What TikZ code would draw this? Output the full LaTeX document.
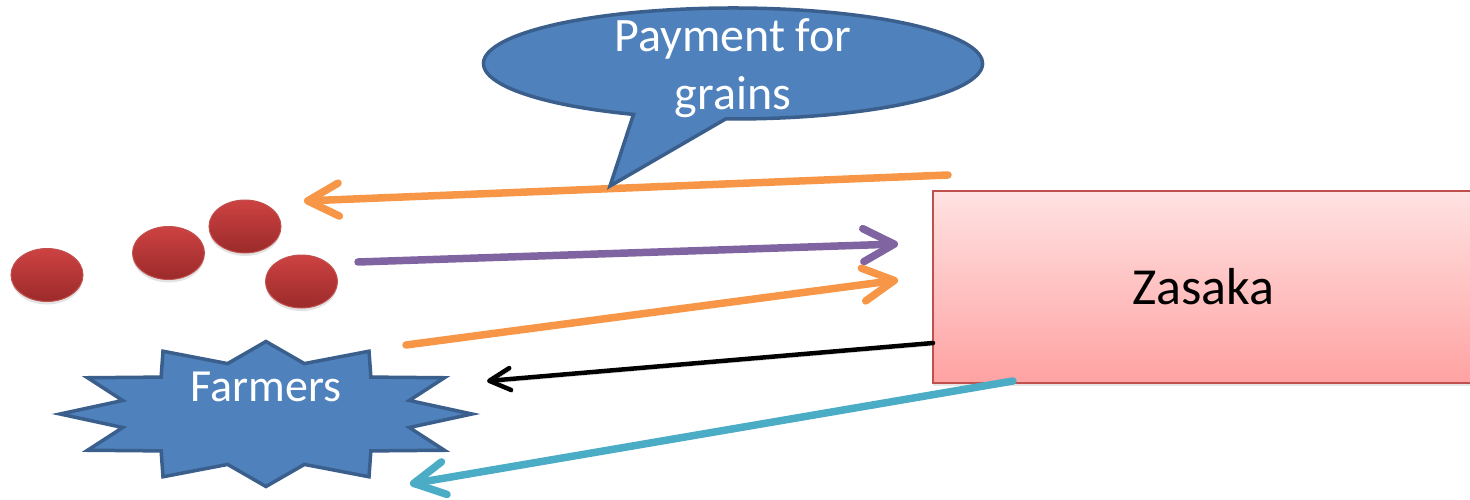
\documentclass[tikz,border=0pt]{standalone}
\usepackage{fontspec}
\setmainfont{Carlito}
\usetikzlibrary{arrows.meta,shadows,shapes.geometric}

\definecolor{accentBlue}{HTML}{4F81BD}
\definecolor{blueEdge}{HTML}{3A5F8C}
\definecolor{flowOrange}{HTML}{F79646}
\definecolor{flowPurple}{HTML}{8064A2}
\definecolor{flowTeal}{HTML}{4BACC6}
\definecolor{grainTop}{HTML}{CD4242}
\definecolor{grainBottom}{HTML}{9C2A2A}
\definecolor{grainEdge}{HTML}{C0504D}
\definecolor{boxTop}{HTML}{FFE2E2}
\definecolor{boxBottom}{HTML}{FFA2A2}
\definecolor{boxEdge}{HTML}{C0504D}

\begin{document}
\begin{tikzpicture}[x=1pt,y=-1pt,
  softshadow/.style={preaction={draw=black,draw opacity=0.18,
      transform canvas={xshift=1.5pt,yshift=-2.5pt}}},
  flow/.style={line width=7.5pt,line cap=round,line join=round,softshadow,
      -{Straight Barb[length=31pt,width=33pt,round]}},
  thinflow/.style={line width=4.5pt,line cap=round,line join=round,softshadow,
      -{Straight Barb[length=21pt,width=22pt,round]}},
  grain/.style={ellipse,minimum width=72pt,minimum height=53pt,inner sep=0pt,
      draw=grainEdge,line width=1pt,top color=grainTop,bottom color=grainBottom,
      drop shadow={opacity=0.22,shadow xshift=0pt,shadow yshift=-3pt}},
  bluefill/.style={fill=accentBlue,draw=blueEdge,line width=3.5pt,line join=miter},
  whitetext/.style={text=white,inner sep=0pt,anchor=base},
  box/.style={rectangle,minimum width=540pt,minimum height=192pt,
      draw=boxEdge,line width=1.5pt,top color=boxTop,bottom color=boxBottom,
      drop shadow={opacity=0.2,shadow xshift=0pt,shadow yshift=-3pt},
      font=\fontsize{52}{62}\selectfont,text=black}
]
\useasboundingbox (0,0) rectangle (1470,500);

% grains
\node[grain] (g1) at (47,275) {};
\node[grain] (g2) at (168.5,253) {};
\node[grain] (g3) at (245,226.5) {};
\node[grain] (g4) at (301.5,281.5) {};

% Zasaka
\node[box] (zasaka) at (1203,287) {Zasaka};

% Farmers starburst (12 points)
\draw[bluefill] plot[samples at={0,...,23},variable=\k]
  ({266+206*ifthenelse(mod(\k,2)==0,1,0.72)*cos(15*\k)},
   {414+72.5*ifthenelse(mod(\k,2)==0,1,0.72)*sin(15*\k)}) -- cycle;
\node[whitetext,font=\fontsize{46}{55}\selectfont] (farmers) at (266,401.5) {Farmers};

% arrow end points
\coordinate (payTail) at (948,175);
\coordinate (payHead) at (304,201);
\coordinate (grainTail) at (358,262);
\coordinate (grainHead) at (898,244);
\coordinate (farmTail) at (406,345);
\coordinate (farmHead) at (898,280);
\coordinate (zasakaOut) at (933,343);
\coordinate (blackHead) at (487,381);
\coordinate (tealTail) at (1013,381);
\coordinate (tealHead) at (410,484);

% flows
\draw[flow,draw=flowOrange] (payTail) -- (payHead);
\draw[flow,draw=flowPurple] (grainTail) -- (grainHead);
\draw[flow,draw=flowOrange] (farmTail) -- (farmHead);
\draw[thinflow,draw=black] (zasakaOut) -- (blackHead);
\draw[flow,draw=flowTeal] (tealTail) -- (tealHead);

% callout
\coordinate (calloutTip) at (610,186);
\draw[bluefill] (733,63.5) ++(113.5:249.5 and 55.5)
  arc[start angle=113.5,end angle=451.7,x radius=249.5,y radius=55.5]
  -- (calloutTip) -- cycle;
\node[whitetext,font=\fontsize{48}{58}\selectfont] (payLine1) at (733,52) {Payment for};
\node[whitetext,font=\fontsize{48}{58}\selectfont] (payLine2) at (733,110) {grains};
\end{tikzpicture}
\end{document}
